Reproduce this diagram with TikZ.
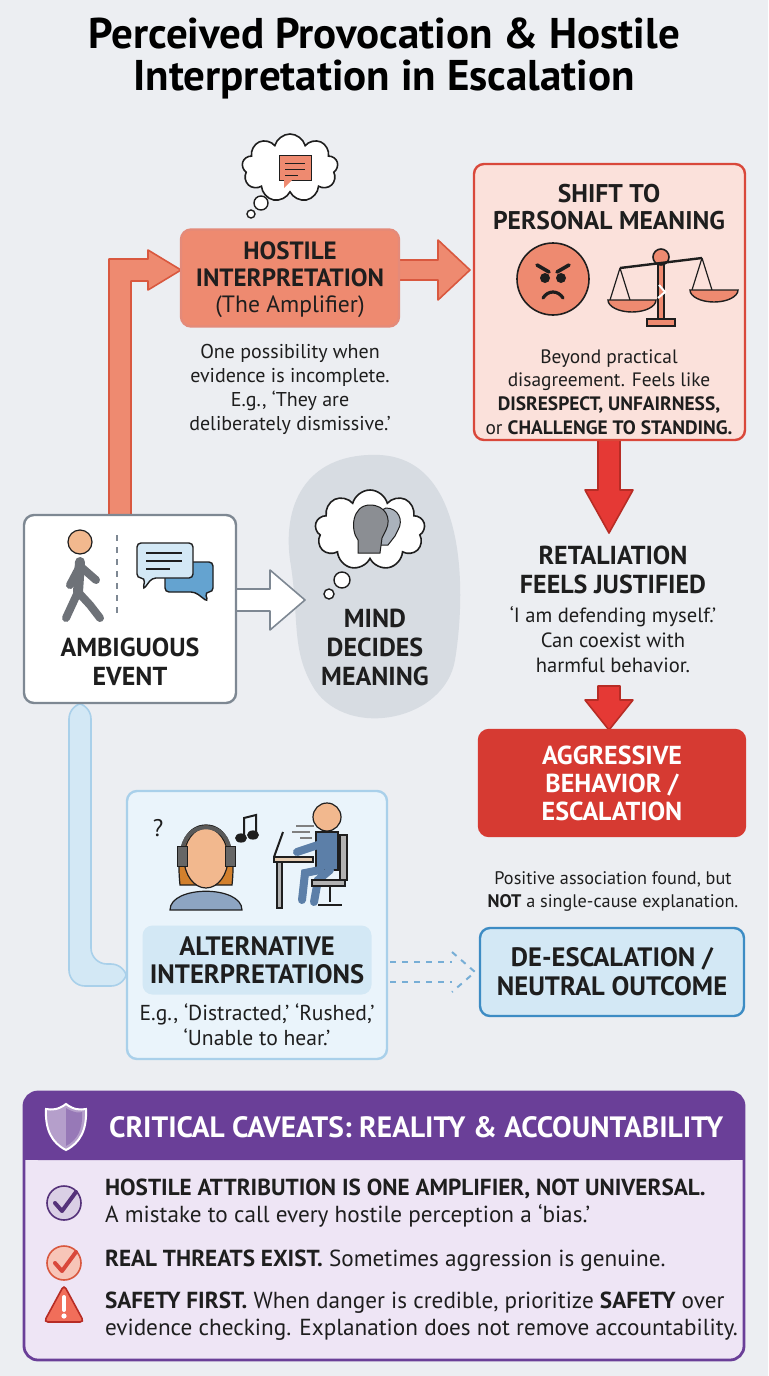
\documentclass[tikz,border=0pt]{standalone}
\usepackage{fontspec}
\setmainfont{PT Sans}
\usetikzlibrary{shapes.symbols,shapes.geometric,calc}
\definecolor{bg}{HTML}{ECEEF2}
\definecolor{sal}{HTML}{EE8A70}
\definecolor{salD}{HTML}{D9583F}
\definecolor{pinkF}{HTML}{FBE1DB}
\definecolor{redB}{HTML}{D9483B}
\definecolor{redA}{HTML}{E53935}
\definecolor{redD}{HTML}{B72C25}
\definecolor{aggF}{HTML}{D63A32}
\definecolor{grayB}{HTML}{7E8893}
\definecolor{blob}{HTML}{D7DCE2}
\definecolor{bluL}{HTML}{D3E8F5}
\definecolor{bluB}{HTML}{A9D0EA}
\definecolor{bluF}{HTML}{EAF4FB}
\definecolor{bluD}{HTML}{3D8CC4}
\definecolor{pur}{HTML}{6A3F98}
\definecolor{purL}{HTML}{EEE5F5}
\definecolor{ink}{HTML}{1E1E1E}
\definecolor{skin}{HTML}{F2B88E}
\definecolor{figG}{HTML}{6E7278}
\definecolor{figB}{HTML}{5C7FA8}
\tikzset{
 x=0.5pt,y=-0.5pt,
 box/.style={draw,rounded corners=5pt,line width=1.2pt,inner sep=0pt},
 hd/.style={font=\fontsize{12.8}{13.8}\selectfont\bfseries,align=center,text=ink},
 hdb/.style={font=\fontsize{13}{14.5}\selectfont\bfseries,align=center,text=ink},
 bd/.style={font=\fontsize{10}{12}\selectfont,align=center,text=ink},
 it/.style={font=\fontsize{11.6}{13.5}\selectfont,text=ink,align=left,anchor=west},
 fat/.style={line width=0.8pt,line join=round},
}
\begin{document}
\begin{tikzpicture}
\fill[bg] (0,0) rectangle (768,1376);
\useasboundingbox (0,0) rectangle (768,1376);
% title
\node[font=\fontsize{21.5}{21}\selectfont\bfseries,align=center,text=black] (title) at (384,58) {Perceived Provocation \& Hostile\\Interpretation in Escalation};

% blue pipe
\draw[fat,draw=bluB,fill=bluL,rounded corners=8pt] (69,703)--(69,986)--(127,986)--(127,964)--(91,964)--(91,703)--cycle;
% orange elbow
\draw[fat,draw=salD,fill=sal] (109,515)--(109,259)--(148,259)--(148,250)--(181,270)--(148,290)--(148,281)--(131,281)--(131,515)--cycle;
% hostile -> shift
\draw[fat,draw=salD,fill=sal] (399,260)--(438,260)--(438,240)--(470,270)--(438,300)--(438,280)--(399,280)--cycle;
% red down arrows
\draw[fat,draw=redD,fill=redA] (598,440)--(620,440)--(620,490)--(633,490)--(609,533)--(585,490)--(598,490)--cycle;
\draw[fat,draw=redD,fill=redA] (598,686)--(620,686)--(620,700)--(633,700)--(609,730)--(585,700)--(598,700)--cycle;

% mind blob
\fill[blob] (380,455) .. controls (470,460) and (465,600) .. (455,660) .. controls (445,720) and (350,740) .. (315,690) .. controls (290,650) and (300,620) .. (290,560) .. controls (282,500) and (310,452) .. (380,455);
% white arrow
\draw[fat,draw=grayB,fill=white] (236,589)--(270,589)--(270,570)--(305,600)--(270,630)--(270,611)--(236,611)--cycle;

% ambiguous box
\node[box,draw=grayB,fill=white,minimum width=106pt,minimum height=94pt] (amb) at (130,609) {};
\node[hdb] (ambt) at (130,662) {AMBIGUOUS\\EVENT};
\draw[dashed,grayB,line width=0.8pt] (117,535)--(117,615);
% walker
\fill[skin,draw=ink,line width=0.6pt] (80,542) circle (6pt);
\draw[figG,line width=5pt,line cap=round] (80,562)--(78,592);
\draw[figG,line width=4pt,line cap=round] (78,592)--(66,618) (78,592)--(90,605)--(100,618) (80,566)--(70,585) (80,566)--(96,580);
% chat bubbles
\draw[fill=bluD!80,draw=ink,line width=0.7pt,rounded corners=2pt] (165,562)--(213,562)--(213,592)--(205,592)--(208,602)--(195,592)--(165,592)--cycle;
\draw[fill=bluL,draw=ink,line width=0.7pt,rounded corners=2pt] (137,543)--(193,543)--(193,578)--(152,578)--(143,590)--(145,578)--(137,578)--cycle;
\draw[ink,line width=0.6pt] (146,553)--(182,553) (146,561)--(182,561) (146,569)--(170,569);

% mind cloud
\node[cloud,cloud puffs=9,draw=ink,fill=white,line width=0.8pt,minimum width=55pt,minimum height=40pt] (mc) at (370,530) {};
\draw[fill=white,draw=ink,line width=0.7pt] (342,580) circle (4pt) (329,594) circle (2.5pt);
\fill[figB!40!gray!60,draw=ink,line width=0.5pt] (386,508) .. controls (398,508) and (404,520) .. (398,530) -- (395,536) -- (388,545) -- (378,545) -- (378,512) -- cycle;
\fill[figG!80,draw=ink,line width=0.5pt] (370,505) .. controls (385,505) and (392,518) .. (386,530) -- (382,538) -- (380,553) -- (358,553) -- (358,540) .. controls (350,530) and (352,505) .. (370,505) -- cycle;
\node[hdb] (mind) at (375,647) {MIND\\DECIDES\\MEANING};

% thought cloud above hostile
\node[cloud,cloud puffs=9,draw=ink,fill=white,line width=0.8pt,minimum width=48pt,minimum height=34pt] (tc) at (290,168) {};
\fill[sal,draw=ink,line width=0.5pt] (279,155) rectangle (311,180);
\fill[sal] (284,180)--(292,180)--(284,188)--cycle;
\draw[ink,line width=0.5pt] (285,163)--(305,163) (285,169)--(305,169) (285,175)--(298,175);
\draw[fill=white,draw=ink,line width=0.7pt] (261,203) circle (3.5pt) (251,214) circle (2pt);

% hostile box
\node[box,draw=salD!70,fill=sal,minimum width=109pt,minimum height=48.5pt] (host) at (290,278) {};
\node[hd,font=\fontsize{12.5}{13.5}\selectfont\bfseries] (hostt1) at (290,264) {HOSTILE\\INTERPRETATION};
\node[font=\fontsize{11.8}{12}\selectfont,text=ink] (hostt2) at (290,307) {(The Amplifier)};
\node[bd] (hostt) at (290,389) {One possibility when\\evidence is incomplete.\\E.g., ‘They are\\deliberately dismissive.’};

% shift box
\node[box,draw=redB,fill=pinkF,minimum width=135.5pt,minimum height=138pt] (shift) at (609.5,302) {};
\node[hd] (shiftt) at (609,207) {SHIFT TO\\PERSONAL MEANING};
\node[bd,font=\fontsize{9.7}{11.8}\selectfont] (shiftb) at (609,392) {Beyond practical\\disagreement. Feels like\\\textbf{DISRESPECT, UNFAIRNESS,}\\or \textbf{CHALLENGE TO STANDING.}};
% angry face
\fill[sal,draw=ink,line width=0.8pt] (553,279) circle (18pt);
\draw[ink,line width=1.8pt,line cap=round] (537,265)--(549,272) (569,265)--(557,272);
\fill[ink] (545,278) circle (2.5pt) (561,278) circle (2.5pt);
\draw[ink,line width=1.6pt,line cap=round] (543,298) .. controls (548,290) and (558,290) .. (563,298);
% scales
\draw[ink,line width=0.8pt,fill=sal] (647,319) rectangle (675,326);
\draw[ink,line width=0.8pt,fill=sal] (658,262) rectangle (664,319);
\fill[sal,draw=ink,line width=0.8pt] (661,257) circle (4pt);
\draw[ink,line width=1.2pt] (620,268)--(702,258);
\draw[ink,line width=0.6pt] (620,268)--(610,300) (620,268)--(630,300) (702,258)--(692,290) (702,258)--(712,290);
\draw[ink,line width=0.7pt,fill=sal] (608,300) arc (180:360:12pt and 6pt)--cycle;
\draw[ink,line width=0.7pt,fill=sal] (690,290) arc (180:360:12pt and 6pt)--cycle;
\draw[white,line width=1pt] (659,285)--(665,292)--(658,298);

% retaliation
\node[hdb] (ret) at (613,570) {RETALIATION\\FEELS JUSTIFIED};
\node[bd,font=\fontsize{10.3}{12.5}\selectfont] (rett) at (613,640) {‘I am defending myself.’\\Can coexist with\\harmful behavior.};

% aggressive
\node[box,draw=aggF,fill=aggF,minimum width=133pt,minimum height=53pt,font=\fontsize{13}{14}\selectfont\bfseries,text=white,align=center] (agg) at (612,783) {AGGRESSIVE\\BEHAVIOR /\\ESCALATION};
\node[font=\fontsize{9.1}{11.5}\selectfont,align=center,text=ink] (aggt) at (613,891) {Positive association found, but\\\textbf{NOT} a single-cause explanation.};

% alt box
\node[box,draw=bluB,fill=bluF,minimum width=130pt,minimum height=134pt] (alt) at (257,925) {};
\node[box,draw=none,fill=bluL,minimum width=114.5pt,minimum height=34.5pt,hd,font=\fontsize{13.3}{14}\selectfont\bfseries] (altl) at (257,960) {ALTERNATIVE\\INTERPRETATIONS};
\node[bd,font=\fontsize{10.8}{12.5}\selectfont] (altt) at (257,1025) {E.g., ‘Distracted,’ ‘Rushed,’\\‘Unable to hear.’};
% woman with headphones
\fill[figB!70!white,draw=ink,line width=0.6pt] (170,910) .. controls (170,885) and (242,885) .. (242,910) -- cycle;
\fill[brown!70!orange,draw=ink,line width=0.6pt] (180,885) .. controls (175,840) and (190,825) .. (206,825) .. controls (222,825) and (237,840) .. (232,885) -- cycle;
\fill[skin,draw=ink,line width=0.6pt] (206,858) ellipse (11pt and 15pt);
\draw[gray!70!black,line width=2pt] (182,855) .. controls (182,818) and (230,818) .. (230,855);
\fill[gray!80!black,draw=ink,line width=0.5pt] (177,846) rectangle (187,866) (225,846) rectangle (235,866);
\node[font=\fontsize{12}{12}\selectfont,text=ink] (q) at (158,828) {?};
\draw[ink,line width=1pt] (244,838)--(244,818)--(256,815)--(256,835);
\fill[ink] (241,838) ellipse (3pt and 2.3pt) (253,835) ellipse (3pt and 2.3pt);
% person at desk
\draw[ink,line width=0.6pt,fill=brown!40] (274,857) rectangle (313,862);
\draw[ink,line width=0.6pt,fill=gray!60] (277,862) rectangle (282,908);
\draw[ink,line width=1pt] (274,857)--(283,832);
\fill[skin,draw=ink,line width=0.6pt] (327,817) circle (7pt);
\fill[figB,draw=ink,line width=0.6pt] (316,832) rectangle (338,870);
\draw[figB,line width=4pt,line cap=round] (318,845)--(297,852) (320,870)--(305,873)--(302,900) (330,870)--(318,880)--(314,902);
\draw[ink,line width=0.8pt,fill=gray!60] (340,835) rectangle (347,880) (312,880) rectangle (345,886);
\draw[ink,line width=0.8pt] (330,886)--(330,902) (318,905)--(342,905);
\draw[gray,line width=0.6pt] (296,826)--(314,826) (292,832)--(310,832) (300,838)--(312,838);

% dashed arrows
\draw[bluD!70,dashed,line width=1pt] (390,962)--(452,962) (390,982)--(452,982);
\draw[bluD!70,dashed,line width=1pt] (452,952)--(475,972)--(452,992);
% de-escalation
\node[box,draw=bluD,fill=bluL,minimum width=132pt,minimum height=44pt,hd,font=\fontsize{13.3}{14.5}\selectfont\bfseries] (de) at (612,972) {DE-ESCALATION /\\NEUTRAL OUTCOME};

% caveats panel
\draw[pur,line width=1.4pt,fill=purL,rounded corners=7pt] (24,1092) rectangle (744,1360);
\fill[pur,rounded corners=7pt] (24,1092) rectangle (744,1160);
\fill[pur] (24,1140) rectangle (744,1160);
\node[font=\fontsize{14.7}{15}\selectfont\bfseries,text=white,anchor=west] (cvh) at (102,1127) {CRITICAL CAVEATS: REALITY \& ACCOUNTABILITY};
% shield
\draw[white,line width=1pt,fill=pur!50!white] (66,1104) .. controls (74,1110) and (80,1110) .. (86,1109) .. controls (87,1130) and (80,1143) .. (66,1150) .. controls (52,1143) and (45,1130) .. (46,1109) .. controls (52,1110) and (58,1110) .. (66,1104) -- cycle;
\fill[pur!70!white] (66,1108) .. controls (74,1113) and (80,1113) .. (82,1112) .. controls (83,1130) and (77,1140) .. (66,1146) -- cycle;
% item icons
\fill[pur!25,draw=pur!80!black,line width=0.8pt] (64,1203) circle (8.5pt);
\draw[pur!80!black,line width=2pt,line cap=round,line join=round] (55,1203)--(62,1211)--(76,1192);
\fill[sal!50,draw=salD,line width=0.8pt] (64,1263) circle (8.5pt);
\draw[redB,line width=2pt,line cap=round,line join=round] (55,1263)--(62,1271)--(76,1252);
\draw[fill=sal!80!red,draw=redD,line width=0.8pt,rounded corners=2pt] (64,1285)--(84,1322)--(44,1322)--cycle;
\draw[white,line width=2pt,line cap=round] (64,1297)--(64,1310);
\fill[white] (64,1316) circle (1.3pt);
% item texts
\node[it] (i1) at (98,1203) {\textbf{HOSTILE ATTRIBUTION IS ONE AMPLIFIER, NOT UNIVERSAL.}\\A mistake to call every hostile perception a ‘bias.’};
\node[it] (i2) at (98,1261) {\textbf{REAL THREATS EXIST.} Sometimes aggression is genuine.};
\node[it] (i3) at (98,1316) {\textbf{SAFETY FIRST.} When danger is credible, prioritize \textbf{SAFETY} over\\evidence checking. Explanation does not remove accountability.};
\end{tikzpicture}
\end{document}
